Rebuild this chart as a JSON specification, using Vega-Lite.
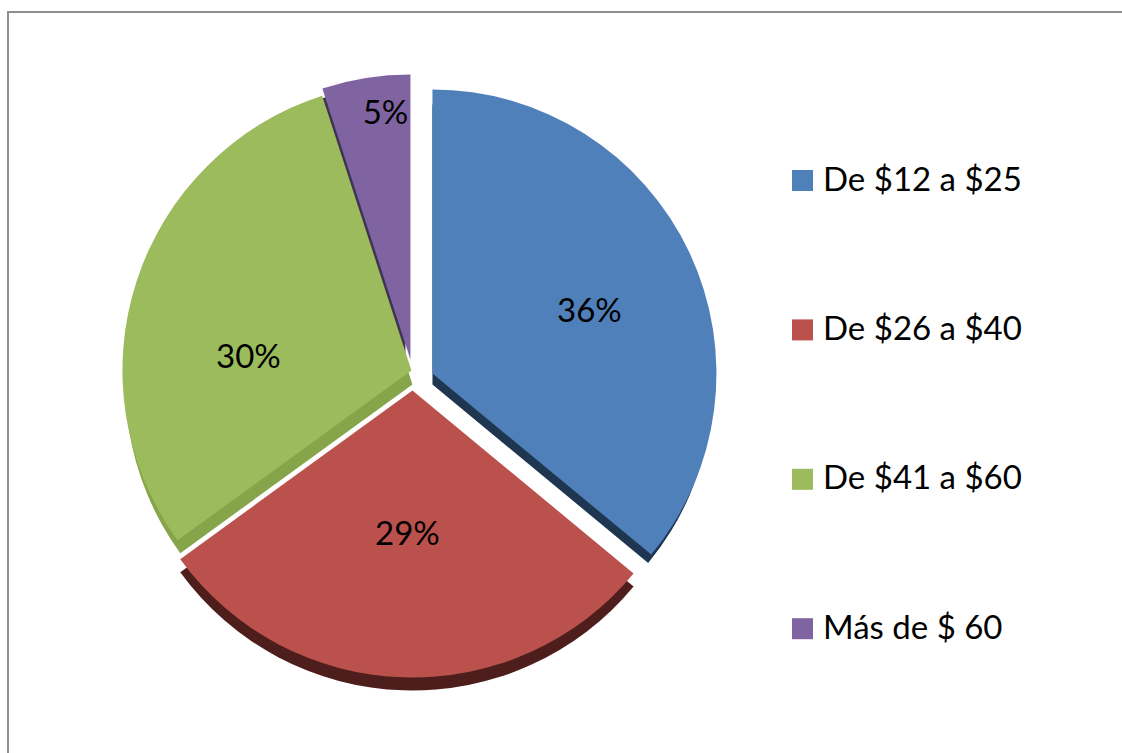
{"$schema":"https://vega.github.io/schema/vega-lite/v6.json","width":1130,"height":760,"padding":{"left":8,"top":12,"right":0,"bottom":0},"autosize":{"type":"none"},"background":"white","config":{"view":{"stroke":"#8f8f8f","strokeWidth":2}},"data":{"values":[{"category":"De $12 a $25","pct":36,"label":"36%"},{"category":"De $26 a $40","pct":29,"label":"29%"},{"category":"De $41 a $60","pct":30,"label":"30%"},{"category":"Más de $ 60","pct":5,"label":"5%"}]},"transform":[{"stack":"pct","sort":[{"field":"category","order":"ascending"}],"as":["p0","p1"]}],"encoding":{"x":{"datum":0.3588,"type":"quantitative","scale":{"domain":[0,1]},"axis":null},"y":{"datum":0.5125,"type":"quantitative","scale":{"domain":[0,1]},"axis":null},"theta":{"field":"p0","type":"quantitative","scale":{"domain":[0,100]}},"theta2":{"field":"p1"}},"layer":[
{"transform":[{"filter":"datum.pct==5"}],"mark":{"type":"arc","outerRadius":281,"fill":"#3f3252","xOffset":-8,"yOffset":-16}},
{"transform":[{"filter":"datum.pct==30"}],"mark":{"type":"arc","outerRadius":287,"fill":"#86a44a","xOffset":-1,"yOffset":2}},
{"transform":[{"filter":"datum.pct==36"}],"mark":{"type":"arc","outerRadius":280,"fill":"#1f3651","xOffset":19,"yOffset":2}},
{"transform":[{"filter":"datum.pct==29"}],"mark":{"type":"arc","outerRadius":287,"fill":"#4d1e1c","xOffset":-1,"yOffset":21}},
{"transform":[{"filter":"datum.pct==5"}],"mark":{"type":"arc","outerRadius":285,"xOffset":-3,"yOffset":-23},"encoding":{"color":{"field":"category","type":"nominal","scale":{"domain":["De $12 a $25","De $26 a $40","De $41 a $60","Más de $ 60"],"range":["#4f80ba","#bb514c","#9bbb5c","#8064a2"]},"legend":{"orient":"none","legendX":778,"legendY":152,"title":null,"symbolType":"square","symbolSize":441,"symbolStrokeWidth":0,"labelFont":"Lato","labelFontSize":33,"labelColor":"#000000","labelLimit":300,"rowPadding":115.4,"labelOffset":4}}}},
{"transform":[{"filter":"datum.pct==30"}],"mark":{"type":"arc","outerRadius":289,"xOffset":-2,"yOffset":-12},"encoding":{"color":{"field":"category","type":"nominal"}}},
{"transform":[{"filter":"datum.pct==36"}],"mark":{"type":"arc","outerRadius":284,"xOffset":19,"yOffset":-9},"encoding":{"color":{"field":"category","type":"nominal"}}},
{"transform":[{"filter":"datum.pct==29"}],"mark":{"type":"arc","outerRadius":287,"xOffset":-1,"yOffset":8},"encoding":{"color":{"field":"category","type":"nominal"}}},
{"transform":[{"filter":"datum.pct==36"}],"mark":{"type":"text","font":"Lato","fontSize":33,"color":"#000000","dx":176,"dy":-71},"encoding":{"text":{"field":"label"},"theta":null,"theta2":null}},
{"transform":[{"filter":"datum.pct==29"}],"mark":{"type":"text","font":"Lato","fontSize":33,"color":"#000000","dx":-6,"dy":152},"encoding":{"text":{"field":"label"},"theta":null,"theta2":null}},
{"transform":[{"filter":"datum.pct==30"}],"mark":{"type":"text","font":"Lato","fontSize":33,"color":"#000000","dx":-165,"dy":-25},"encoding":{"text":{"field":"label"},"theta":null,"theta2":null}},
{"transform":[{"filter":"datum.pct==5"}],"mark":{"type":"text","font":"Lato","fontSize":33,"color":"#000000","dx":-28,"dy":-269},"encoding":{"text":{"field":"label"},"theta":null,"theta2":null}}
]}
